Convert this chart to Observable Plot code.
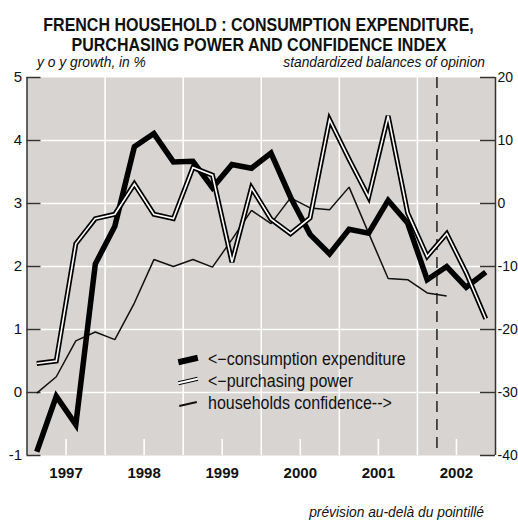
<!DOCTYPE html>
<html>
<head>
<meta charset="utf-8">
<script src="https://cdn.jsdelivr.net/npm/d3@7"></script>
<script src="https://cdn.jsdelivr.net/npm/@observablehq/plot@0.6"></script>
<style>
  html, body { margin: 0; padding: 0; background: #fff; }
  #wrap { position: relative; width: 518px; height: 526px; overflow: hidden; font-family: "Liberation Sans", Arial, sans-serif; color: #111; }
  #wrap svg { position: absolute; left: 0; top: 0; }
  .title { position: absolute; left: 0; top: 14.5px; width: 518px; text-align: center; font-weight: bold; font-size: 17.6px; line-height: 20.5px; white-space: nowrap; }
  .title span { display: inline-block; transform: scaleX(0.91); transform-origin: center; }
  .sub { position: absolute; font-style: italic; font-size: 13.8px; line-height: 14px; white-space: nowrap; }
  .row { position: absolute; left: 208px; font-size: 17.5px; line-height: 17.5px; white-space: nowrap; transform: scaleX(0.915); transform-origin: left center; }
  .sym { position: absolute; transform-origin: center; }
</style>
</head>
<body>
<div id="wrap"></div>
<script>
// ---- data ----
const periods = ["1997Q1","1997Q2","1997Q3","1997Q4","1998Q1","1998Q2","1998Q3","1998Q4",
  "1999Q1","1999Q2","1999Q3","1999Q4","2000Q1","2000Q2","2000Q3","2000Q4",
  "2001Q1","2001Q2","2001Q3","2001Q4","2002Q1","2002Q2","2002Q3","2002Q4"];
// consumption expenditure, y o y growth in % (left axis)
const consumption = [-0.94, -0.06, -0.51, 2.04, 2.64, 3.90, 4.11, 3.66, 3.67, 3.25, 3.62, 3.56,
  3.80, 3.10, 2.51, 2.20, 2.59, 2.53, 3.05, 2.69, 1.79, 2.00, 1.67, 1.91];
// purchasing power, y o y growth in % (left axis)
const purchasing = [0.46, 0.50, 2.36, 2.76, 2.83, 3.31, 2.83, 2.76, 3.57, 3.45, 2.07, 3.25,
  2.75, 2.52, 2.77, 4.33, 3.70, 3.10, 4.39, 2.85, 2.16, 2.52, 1.90, 1.17];
// households confidence, standardized balances of opinion (right axis)
const confidence = [-30.1, -27.5, -21.8, -20.4, -21.6, -15.8, -8.9, -10.0, -8.9, -10.1, -5.7, -1.1,
  -3.2, 0.9, -0.7, -1.0, 2.6, -4.7, -11.9, -12.1, -14.2, -14.7];
const leftTicks = [5, 4, 3, 2, 1, 0, -1];
const rightTicks = [20, 10, 0, -10, -20, -30, -40];
const yearLabels = [1997, 1998, 1999, 2000, 2001, 2002];
const lastObserved = "2002Q1";
const legendLabels = ["<\u2212consumption expenditure", "<\u2212purchasing power", "households confidence-->"];
const titleLines = ["FRENCH HOUSEHOLD : CONSUMPTION EXPENDITURE,", "PURCHASING POWER AND CONFIDENCE INDEX"];
const leftUnit = "y o y growth, in %";
const rightUnit = "standardized balances of opinion";
const footer = "pr\u00e9vision au-del\u00e0 du pointill\u00e9";

// ---- helpers ----
const toT = p => +p.slice(0, 4) + (+p.slice(5) - 0.5) / 4;   // mid-quarter
const endOfQ = p => +p.slice(0, 4) + (+p.slice(5)) / 4;
const right2left = r => r / 10 + 3;                         // right axis -> left axis units
const left2right = v => (v - 3) * 10;

const rows = periods.map((p, i) => ({t: toT(p), consumption: consumption[i], purchasing: purchasing[i], confidence: confidence[i]}));
const confRows = rows.filter(d => d.confidence !== undefined);
const yearBounds = yearLabels.slice(1);
const midYears = yearLabels.map(y => y + 0.5);
const axisColor = "#333";
const bg = "#d7d4d1";

const W = 518, H = 526;
const mL = 26.5, mR = 23, mT = 77, mB = 71;
const innerW = W - mL - mR, innerH = H - mT - mB;

const chart = Plot.plot({
  width: W, height: H,
  marginLeft: mL, marginRight: mR, marginTop: mT, marginBottom: mB,
  style: {fontFamily: "'Liberation Sans', Arial, sans-serif", fontSize: "15px", color: "#111", background: "transparent", overflow: "visible"},
  x: {domain: [yearLabels[0], yearLabels[yearLabels.length - 1] + 1], label: null},
  y: {domain: [d3.min(leftTicks), d3.max(leftTicks)], label: null},
  marks: [
    Plot.frame({fill: bg, stroke: null}),
    Plot.gridY(leftTicks.slice(1, -1), {stroke: "white", strokeOpacity: 1, strokeWidth: 1.6}),
    Plot.gridX(yearBounds, {stroke: "white", strokeOpacity: 1, strokeWidth: 1.6}),
    Plot.tickX(midYears, {x: d => d, stroke: "white", strokeWidth: 1.6, insetTop: innerH - 16}),
    // axis lines and inward ticks
    Plot.ruleX([yearLabels[0], yearLabels[yearLabels.length - 1] + 1], {stroke: axisColor, strokeWidth: 1.5}),
    Plot.tickY(leftTicks, {y: d => d, stroke: axisColor, strokeWidth: 1.5, insetRight: innerW - 14}),
    Plot.tickY(rightTicks.map(right2left), {y: d => d, stroke: axisColor, strokeWidth: 1.5, insetLeft: innerW - 15}),
    Plot.axisY(leftTicks, {anchor: "left", tickSize: 0, tickPadding: 5, tickFormat: d => String(d), fontSize: 15}),
    Plot.axisY(rightTicks.map(right2left), {anchor: "right", tickSize: 0, tickPadding: 2, tickFormat: d => String(left2right(d)), fontSize: 14}),
    Plot.axisX(midYears, {anchor: "bottom", tickSize: 0, tickPadding: 12, tickFormat: d => String(Math.floor(d)), fontSize: 15, fontWeight: "bold"}),
    // forecast line
    Plot.ruleX([endOfQ(lastObserved)], {stroke: "#222", strokeWidth: 1.5, strokeDasharray: "11,7"}),
    // series
    Plot.line(confRows, {x: "t", y: d => right2left(d.confidence), stroke: "#111", strokeWidth: 1.5, strokeLinejoin: "miter", strokeLinecap: "butt"}),
    Plot.line(rows, {x: "t", y: "consumption", stroke: "#000", strokeWidth: 5.5, strokeLinejoin: "miter", strokeMiterlimit: 4, strokeLinecap: "butt"}),
    Plot.line(rows, {x: "t", y: "purchasing", stroke: "#000", strokeWidth: 5, strokeLinejoin: "miter", strokeMiterlimit: 4, strokeLinecap: "butt"}),
    Plot.line(rows, {x: "t", y: "purchasing", stroke: "#fff", strokeWidth: 1.6, strokeLinejoin: "miter", strokeMiterlimit: 4, strokeLinecap: "butt"})
  ]
});

const wrap = document.getElementById("wrap");
wrap.appendChild(chart);

function addDiv(cls, text, css) {
  const d = document.createElement("div");
  d.className = cls;
  d.textContent = text;
  Object.assign(d.style, css);
  wrap.appendChild(d);
  return d;
}
// title: one block, two lines
const title = document.createElement("div");
title.className = "title";
titleLines.forEach((t, i) => {
  const s = document.createElement("span");
  s.textContent = t;
  title.appendChild(s);
  if (i < titleLines.length - 1) title.appendChild(document.createElement("br"));
});
wrap.appendChild(title);

addDiv("sub", leftUnit, {left: "37px", top: "56px"});
addDiv("sub", rightUnit, {right: "33px", top: "56px"});
addDiv("sub", footer, {right: "34px", top: "506px"});

// legend
const legRowsY = [360, 382, 404];
legendLabels.forEach((lab, i) => {
  addDiv("row", lab, {top: (legRowsY[i] - 9) + "px"});
  const s = document.createElement("div");
  s.className = "sym";
  if (i === 0) Object.assign(s.style, {left: "178px", top: (legRowsY[i] - 2.75) + "px", width: "20px", height: "5.5px", background: "#000", transform: "rotate(-13deg)"});
  if (i === 1) Object.assign(s.style, {left: "178px", top: (legRowsY[i] - 3.2) + "px", width: "20px", height: "1.6px", background: "#fff", borderTop: "1.7px solid #000", borderBottom: "1.7px solid #000", transform: "rotate(-13deg)"});
  if (i === 2) Object.assign(s.style, {left: "179px", top: (legRowsY[i] - 0.75) + "px", width: "18px", height: "1.5px", background: "#111", transform: "rotate(-13deg)"});
  wrap.appendChild(s);
});
</script>
</body>
</html>
